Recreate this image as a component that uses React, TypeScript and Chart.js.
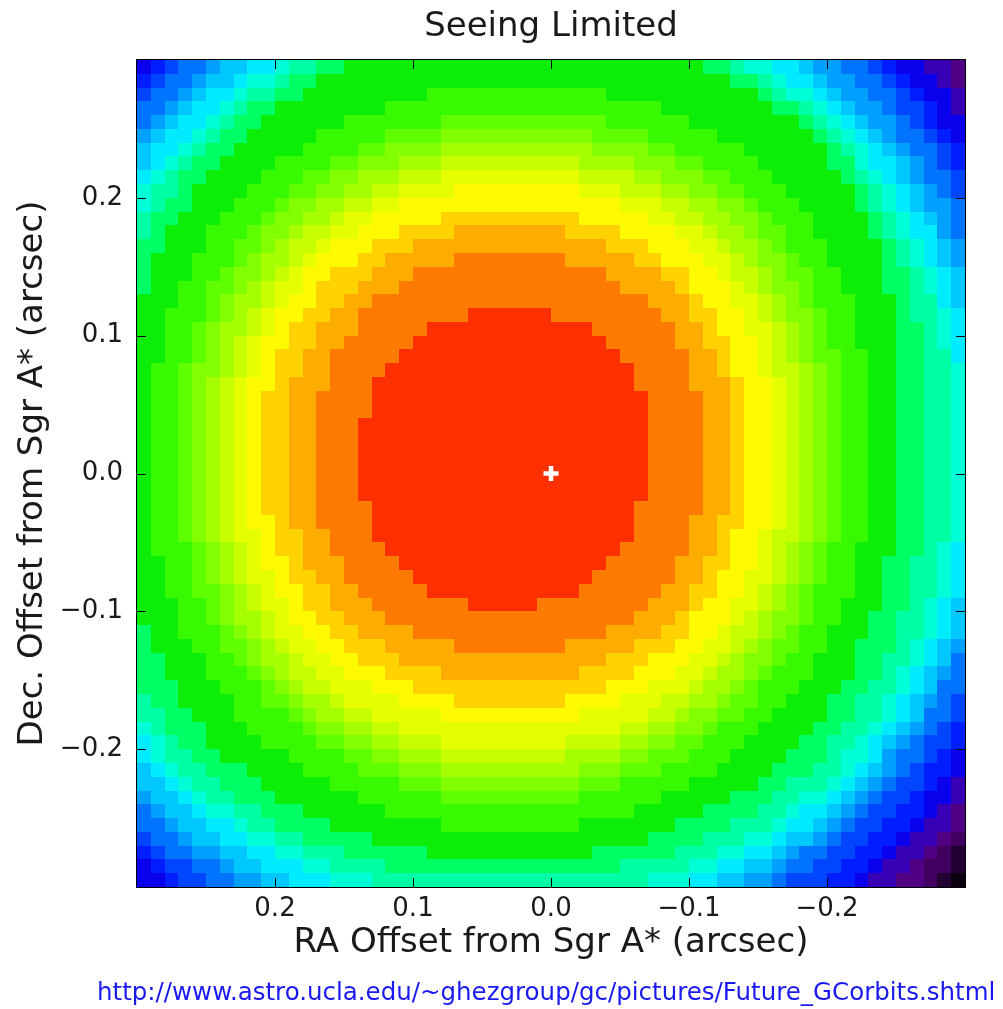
import React, { useEffect, useRef } from "react";
import { Chart, registerables } from "chart.js";

Chart.register(...registerables);

// ---------------- data ----------------
const chartTitle = "Seeing Limited";
const xAxisLabel = "RA Offset from Sgr A* (arcsec)";
const yAxisLabel = "Dec. Offset from Sgr A* (arcsec)";
const sourceUrl = "http://www.astro.ucla.edu/~ghezgroup/gc/pictures/Future_GCorbits.shtml";

const xTickValues = [0.2, 0.1, 0.0, -0.1, -0.2];
const yTickValues = [0.2, 0.1, 0.0, -0.1, -0.2];
const axisLimit = 0.3; // arcsec, both axes
const pixelScale = 0.01; // arcsec per image pixel (60 x 60 image)

// centre of the seeing halo and the marked position of Sgr A*
const psfCenterX = 0.035;
const psfCenterY = 0.01;
const sgrAStar = [{ x: 0, y: 0 }];

// colour of each intensity band, brightest (centre) first
const levelColors = [
  "rgb(255,48,0)",
  "rgb(255,122,0)",
  "rgb(255,172,0)",
  "rgb(255,210,0)",
  "rgb(255,250,0)",
  "rgb(230,255,0)",
  "rgb(200,255,0)",
  "rgb(165,255,0)",
  "rgb(130,255,0)",
  "rgb(95,255,0)",
  "rgb(55,250,0)",
  "rgb(12,238,8)",
  "rgb(0,255,100)",
  "rgb(0,255,165)",
  "rgb(0,255,215)",
  "rgb(0,235,255)",
  "rgb(0,200,255)",
  "rgb(0,160,255)",
  "rgb(0,115,255)",
  "rgb(0,70,255)",
  "rgb(0,30,255)",
  "rgb(10,0,235)",
  "rgb(55,0,180)",
  "rgb(80,0,130)",
  "rgb(65,0,95)",
  "rgb(35,0,50)",
  "rgb(10,0,15)",
];

// outer radius (arcsec) of each band, measured from the halo centre along
// eight directions of the picture (W = right, N = up, E = left, S = down)
const ringRadiusW = [0.105, 0.145, 0.165, 0.175, 0.195, 0.205, 0.215, 0.225, 0.235, 0.245, 0.265, 0.285, 0.305, 0.325, 0.335, 0.345, 0.353, 0.36, 0.37, 0.38, 0.39, 0.4, 0.41, 0.42, 0.43, 0.44];
const ringRadiusNW = [0.115, 0.155, 0.176, 0.188, 0.206, 0.218, 0.229, 0.24, 0.252, 0.264, 0.285, 0.325, 0.333, 0.338, 0.346, 0.355, 0.363, 0.375, 0.387, 0.397, 0.405, 0.418, 0.432, 0.445, 0.46, 0.475];
const ringRadiusN = [0.11, 0.15, 0.17, 0.18, 0.2, 0.21, 0.22, 0.23, 0.24, 0.25, 0.27, 0.315, 0.325, 0.33, 0.34, 0.35, 0.36, 0.37, 0.38, 0.39, 0.4, 0.41, 0.42, 0.43, 0.44, 0.45];
const ringRadiusNE = [0.107, 0.146, 0.166, 0.182, 0.196, 0.206, 0.216, 0.227, 0.238, 0.249, 0.27, 0.298, 0.31, 0.32, 0.327, 0.337, 0.345, 0.353, 0.365, 0.375, 0.383, 0.392, 0.402, 0.412, 0.422, 0.432];
const ringRadiusE = [0.105, 0.135, 0.155, 0.175, 0.185, 0.195, 0.205, 0.215, 0.225, 0.235, 0.255, 0.275, 0.295, 0.31, 0.32, 0.332, 0.34, 0.348, 0.356, 0.365, 0.373, 0.382, 0.39, 0.4, 0.41, 0.42];
const ringRadiusSE = [0.106, 0.142, 0.162, 0.176, 0.192, 0.206, 0.216, 0.226, 0.234, 0.244, 0.266, 0.294, 0.314, 0.324, 0.332, 0.343, 0.353, 0.362, 0.374, 0.383, 0.392, 0.405, 0.418, 0.43, 0.44, 0.45];
const ringRadiusS = [0.11, 0.14, 0.16, 0.18, 0.19, 0.21, 0.22, 0.23, 0.24, 0.25, 0.27, 0.29, 0.303, 0.315, 0.325, 0.34, 0.35, 0.36, 0.37, 0.38, 0.39, 0.4, 0.41, 0.42, 0.43, 0.44];
const ringRadiusSW = [0.106, 0.148, 0.168, 0.182, 0.198, 0.212, 0.222, 0.232, 0.242, 0.252, 0.272, 0.298, 0.316, 0.33, 0.338, 0.346, 0.353, 0.36, 0.37, 0.383, 0.395, 0.405, 0.418, 0.428, 0.436, 0.444];

// ---------------- building the image cells from the bands ----------------
const ringRadii = [ringRadiusW, ringRadiusNW, ringRadiusN, ringRadiusNE, ringRadiusE, ringRadiusSE, ringRadiusS, ringRadiusSW];

function bandAt(x: number, y: number): number {
  const u = x - psfCenterX; // positive towards the left of the picture
  const v = y - psfCenterY; // positive upwards
  const r = Math.hypot(u, v);
  let ang = (Math.atan2(v, -u) * 180) / Math.PI;
  if (ang < 0) ang += 360;
  const i0 = Math.floor(ang / 45) % 8;
  const i1 = (i0 + 1) % 8;
  const t = (ang - i0 * 45) / 45;
  for (let k = 0; k < ringRadiusW.length; k++) {
    const R = ringRadii[i0][k] * (1 - t) + ringRadii[i1][k] * t;
    if (r < R) return k;
  }
  return levelColors.length - 1;
}

type Cell = { x: number; y: number; level: number };

function buildCells(): Cell[] {
  const n = Math.round((2 * axisLimit) / pixelScale);
  const cells: Cell[] = [];
  for (let row = 0; row < n; row++) {
    for (let col = 0; col < n; col++) {
      const x = axisLimit - pixelScale / 2 - col * pixelScale;
      const y = axisLimit - pixelScale / 2 - row * pixelScale;
      cells.push({ x, y, level: bandAt(x, y) });
    }
  }
  return cells;
}

const FONT = "'DejaVu Sans', 'Liberation Sans', sans-serif";
const TEXT = "#1a1a1a";

const formatTick = (v: number | string) => {
  const n = Number(v);
  if (Math.abs(n) < 1e-9) return "0.0";
  return (n < 0 ? "\u2212" : "") + Math.abs(n).toFixed(1);
};

const heatmapPlugin = {
  id: "heatmapCells",
  beforeDatasetsDraw(chart: any) {
    const { ctx, chartArea, scales } = chart;
    const xs = scales.x;
    const ys = scales.y;
    const cells = chart.data.datasets[0].data as Cell[];
    const h = pixelScale / 2;
    ctx.save();
    ctx.beginPath();
    ctx.rect(chartArea.left, chartArea.top, chartArea.right - chartArea.left, chartArea.bottom - chartArea.top);
    ctx.clip();
    for (const c of cells) {
      const xa = Math.round(xs.getPixelForValue(c.x + h));
      const xb = Math.round(xs.getPixelForValue(c.x - h));
      const ya = Math.round(ys.getPixelForValue(c.y + h));
      const yb = Math.round(ys.getPixelForValue(c.y - h));
      ctx.fillStyle = levelColors[c.level];
      ctx.fillRect(Math.min(xa, xb), Math.min(ya, yb), Math.abs(xb - xa), Math.abs(yb - ya));
    }
    ctx.restore();
  },
};

const frameTicksPlugin = {
  id: "frameTicks",
  afterDatasetsDraw(chart: any) {
    const { ctx, chartArea, scales } = chart;
    const { left, right, top, bottom } = chartArea;
    const len = 9;
    ctx.save();
    ctx.strokeStyle = "#000";
    ctx.lineWidth = 1;
    ctx.strokeRect(left - 0.5, top - 0.5, right - left + 1, bottom - top + 1);
    ctx.beginPath();
    for (const v of xTickValues) {
      const px = Math.round(scales.x.getPixelForValue(v)) + 0.5;
      ctx.moveTo(px, top);
      ctx.lineTo(px, top + len);
      ctx.moveTo(px, bottom);
      ctx.lineTo(px, bottom - len);
    }
    for (const v of yTickValues) {
      const py = Math.round(scales.y.getPixelForValue(v)) + 0.5;
      ctx.moveTo(left, py);
      ctx.lineTo(left + len, py);
      ctx.moveTo(right, py);
      ctx.lineTo(right - len, py);
    }
    ctx.stroke();
    ctx.restore();
  },
};

const urlPlugin = {
  id: "sourceUrl",
  afterDraw(chart: any) {
    const { ctx } = chart;
    ctx.save();
    ctx.font = `24.5px ${FONT}`;
    ctx.fillStyle = "rgb(25,25,240)";
    ctx.textAlign = "left";
    ctx.textBaseline = "alphabetic";
    ctx.fillText(sourceUrl, 97, 1000);
    ctx.restore();
  },
};

export default function App() {
  const canvasRef = useRef<HTMLCanvasElement | null>(null);

  useEffect(() => {
    const canvas = canvasRef.current;
    if (!canvas) return;
    const cells = buildCells();
    const chart = new Chart(canvas, {
      type: "scatter",
      data: {
        datasets: [
          {
            label: "image",
            data: cells as any,
            pointRadius: 0,
            pointHoverRadius: 0,
          },
          {
            label: "Sgr A*",
            data: sgrAStar,
            pointStyle: "cross",
            pointRadius: 7.5,
            pointHoverRadius: 7.5,
            pointBorderColor: "#ffffff",
            pointBackgroundColor: "#ffffff",
            pointBorderWidth: 4.5,
          },
        ],
      },
      options: {
        animation: false,
        responsive: false,
        devicePixelRatio: 1,
        events: [],
        layout: { padding: { left: 0, top: 0, right: 38, bottom: 45.6 } },
        plugins: {
          legend: { display: false },
          tooltip: { enabled: false },
          title: {
            display: true,
            text: chartTitle,
            fullSize: false,
            color: TEXT,
            font: { family: FONT, size: 34, weight: "normal" },
            padding: { top: 7, bottom: 12.2 },
          },
        },
        scales: {
          x: {
            type: "linear",
            min: -axisLimit,
            max: axisLimit,
            reverse: true,
            afterBuildTicks: (s: any) => {
              s.ticks = xTickValues.map((v) => ({ value: v }));
            },
            afterFit: (s: any) => {
              s.height = 76.4;
            },
            grid: { display: false, drawTicks: false },
            border: { display: false },
            ticks: {
              padding: 7,
              autoSkip: false,
              maxRotation: 0,
              color: TEXT,
              font: { family: FONT, size: 26 },
              callback: formatTick,
            },
            title: {
              display: true,
              text: xAxisLabel,
              color: TEXT,
              font: { family: FONT, size: 34 },
              padding: { top: 0, bottom: 0 },
            },
          },
          y: {
            type: "linear",
            min: -axisLimit,
            max: axisLimit,
            afterBuildTicks: (s: any) => {
              s.ticks = yTickValues.map((v) => ({ value: v }));
            },
            afterFit: (s: any) => {
              s.width = 137;
            },
            grid: { display: false, drawTicks: false },
            border: { display: false },
            ticks: {
              padding: 14,
              autoSkip: false,
              color: TEXT,
              font: { family: FONT, size: 26 },
              callback: formatTick,
            },
            title: {
              display: true,
              text: yAxisLabel,
              color: TEXT,
              font: { family: FONT, size: 34 },
              padding: { top: 12.6, bottom: 0 },
            },
          },
        },
      } as any,
      plugins: [heatmapPlugin, frameTicksPlugin, urlPlugin],
    });
    return () => chart.destroy();
  }, []);

  return (
    <div style={{ position: "absolute", left: 0, top: 0, width: 1003, height: 1009, background: "#fff" }}>
      <canvas ref={canvasRef} width={1003} height={1009} style={{ width: 1003, height: 1009, display: "block" }} />
    </div>
  );
}
